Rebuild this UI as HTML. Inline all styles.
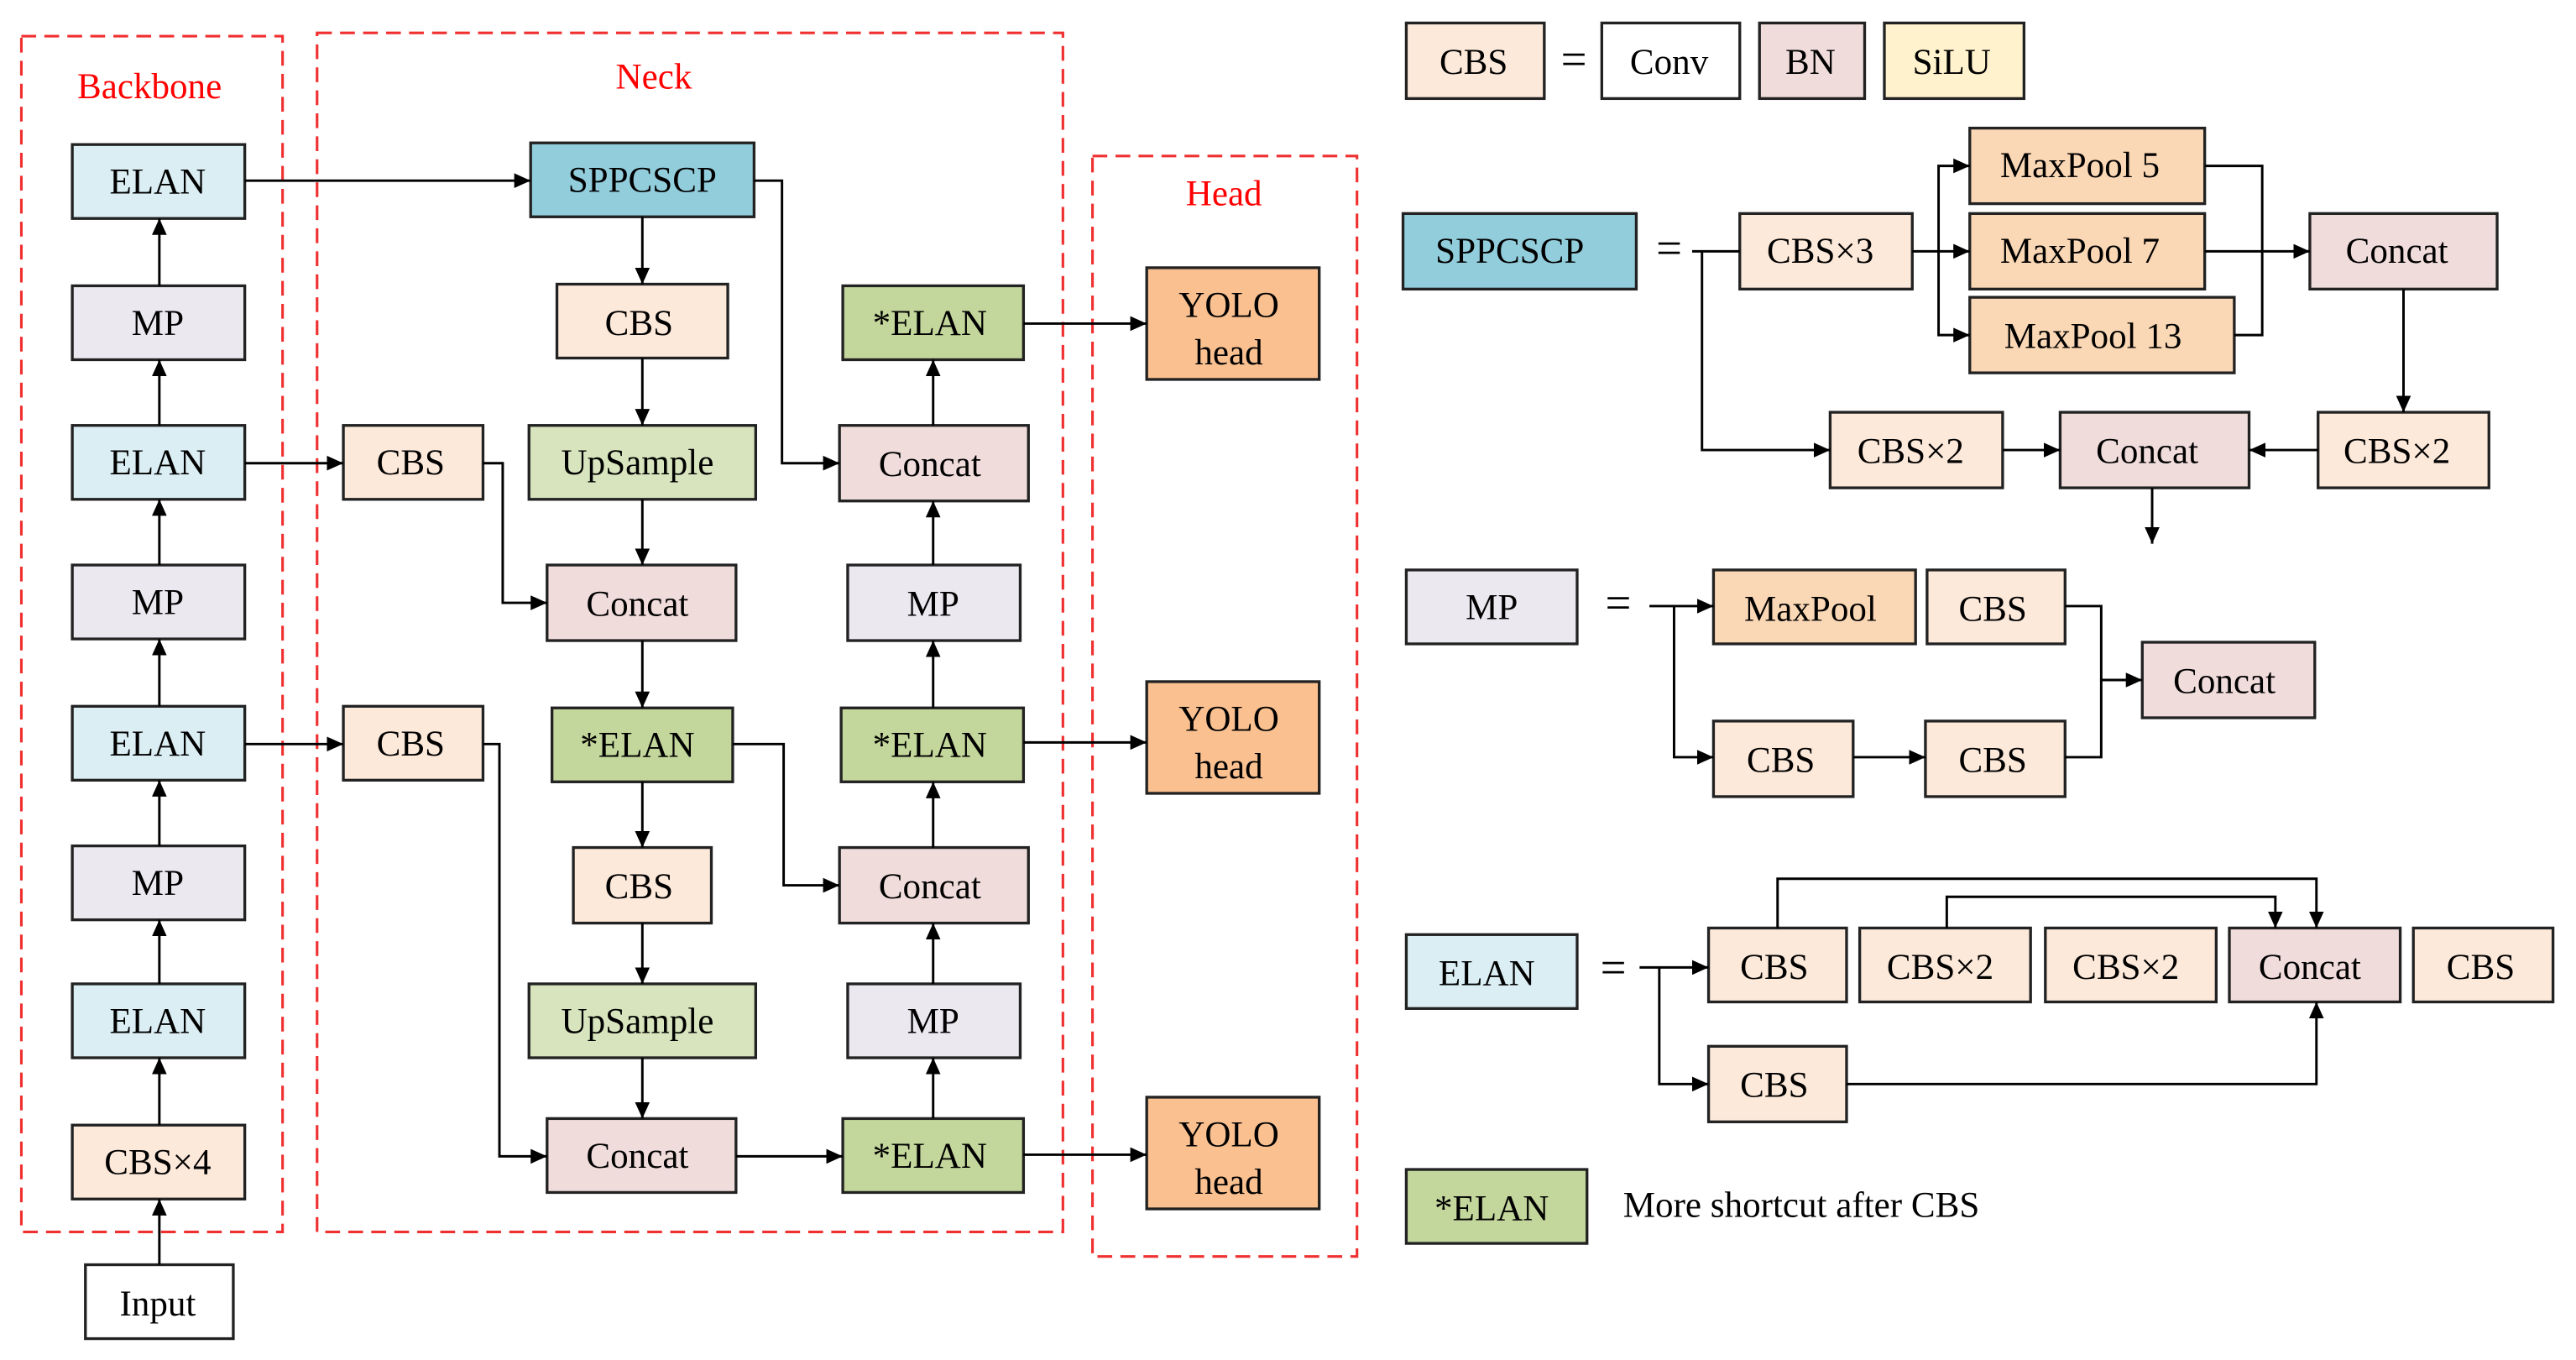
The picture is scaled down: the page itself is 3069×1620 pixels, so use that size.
<!DOCTYPE html>
<html><head><meta charset="utf-8"><style>
html,body{margin:0;padding:0;background:#fff;}
svg{display:block;}
text{font-family:"Liberation Serif",serif;font-size:22px;fill:#000;}
.r{stroke:#222;stroke-width:1.7;}
.l{stroke:#000;stroke-width:1.5;fill:none;}
.d{stroke:#f03030;stroke-width:1.6;fill:none;stroke-dasharray:9,5;}
.red{fill:#ff0000;}
</style></head><body>
<svg width="3069" height="1620" viewBox="0 0 1568 828" preserveAspectRatio="none" xmlns="http://www.w3.org/2000/svg">
<defs><marker id="a" viewBox="0 0 10 10" refX="10" refY="5" markerWidth="10" markerHeight="10" orient="auto" markerUnits="userSpaceOnUse"><path d="M0,0.5L10,5L0,9.5z" fill="#000"/></marker></defs>
<g text-anchor="middle" dominant-baseline="central">
<rect class="d" x="13" y="22" width="159" height="728"/>
<rect class="d" x="193" y="20" width="454" height="730"/>
<rect class="d" x="665" y="95" width="161" height="670"/>
<text x="91" y="53" class="red">Backbone</text>
<text x="398" y="47" class="red">Neck</text>
<text x="745" y="118" class="red">Head</text>

<rect class="r" x="44" y="88" width="105" height="45" fill="#dbeef4"/><text x="96" y="111">ELAN</text>
<rect class="r" x="44" y="174" width="105" height="45" fill="#ebe8f0"/><text x="96" y="197">MP</text>
<rect class="r" x="44" y="259" width="105" height="45" fill="#dbeef4"/><text x="96" y="282">ELAN</text>
<rect class="r" x="44" y="344" width="105" height="45" fill="#ebe8f0"/><text x="96" y="367">MP</text>
<rect class="r" x="44" y="430" width="105" height="45" fill="#dbeef4"/><text x="96" y="453">ELAN</text>
<rect class="r" x="44" y="515" width="105" height="45" fill="#ebe8f0"/><text x="96" y="538">MP</text>
<rect class="r" x="44" y="599" width="105" height="45" fill="#dbeef4"/><text x="96" y="622">ELAN</text>
<rect class="r" x="44" y="685" width="105" height="45" fill="#fde9da"/><text x="96" y="708">CBS×4</text>
<rect class="r" x="52" y="770" width="90" height="45" fill="#fff"/><text x="96" y="794">Input</text>
<path class="l" marker-end="url(#a)" d="M97,770V730"/>
<path class="l" marker-end="url(#a)" d="M97,685V644"/>
<path class="l" marker-end="url(#a)" d="M97,599V560"/>
<path class="l" marker-end="url(#a)" d="M97,515V475"/>
<path class="l" marker-end="url(#a)" d="M97,430V389"/>
<path class="l" marker-end="url(#a)" d="M97,344V304"/>
<path class="l" marker-end="url(#a)" d="M97,259V219"/>
<path class="l" marker-end="url(#a)" d="M97,174V133"/>

<rect class="r" x="323" y="87" width="136" height="45" fill="#92cddc"/><text x="391" y="110">SPPCSCP</text>
<rect class="r" x="339" y="173" width="104" height="45" fill="#fde9da"/><text x="389" y="197">CBS</text>
<rect class="r" x="322" y="259" width="138" height="45" fill="#d7e4bd"/><text x="388" y="282">UpSample</text>
<rect class="r" x="333" y="344" width="115" height="46" fill="#f0dcdb"/><text x="388" y="368">Concat</text>
<rect class="r" x="336" y="431" width="110" height="45" fill="#c3d69b"/><text x="388" y="454">*ELAN</text>
<rect class="r" x="349" y="516" width="84" height="46" fill="#fde9da"/><text x="389" y="540">CBS</text>
<rect class="r" x="322" y="599" width="138" height="45" fill="#d7e4bd"/><text x="388" y="622">UpSample</text>
<rect class="r" x="333" y="681" width="115" height="45" fill="#f0dcdb"/><text x="388" y="704">Concat</text>
<rect class="r" x="209" y="259" width="85" height="45" fill="#fde9da"/><text x="250" y="282">CBS</text>
<rect class="r" x="209" y="430" width="85" height="45" fill="#fde9da"/><text x="250" y="453">CBS</text>

<rect class="r" x="513" y="174" width="110" height="45" fill="#c3d69b"/><text x="566" y="197">*ELAN</text>
<rect class="r" x="511" y="259" width="115" height="46" fill="#f0dcdb"/><text x="566" y="283">Concat</text>
<rect class="r" x="516" y="344" width="105" height="46" fill="#ebe8f0"/><text x="568" y="368">MP</text>
<rect class="r" x="512" y="431" width="111" height="45" fill="#c3d69b"/><text x="566" y="454">*ELAN</text>
<rect class="r" x="511" y="516" width="115" height="46" fill="#f0dcdb"/><text x="566" y="540">Concat</text>
<rect class="r" x="516" y="599" width="105" height="45" fill="#ebe8f0"/><text x="568" y="622">MP</text>
<rect class="r" x="513" y="681" width="110" height="45" fill="#c3d69b"/><text x="566" y="704">*ELAN</text>

<rect class="r" x="698" y="163" width="105" height="68" fill="#fac090"/><text x="748" y="186">YOLO</text><text x="748" y="215">head</text>
<rect class="r" x="698" y="415" width="105" height="68" fill="#fac090"/><text x="748" y="438">YOLO</text><text x="748" y="467">head</text>
<rect class="r" x="698" y="668" width="105" height="68" fill="#fac090"/><text x="748" y="691">YOLO</text><text x="748" y="720">head</text>

<path class="l" marker-end="url(#a)" d="M149,110H323"/>
<path class="l" marker-end="url(#a)" d="M459,110H476V282H511"/>
<path class="l" marker-end="url(#a)" d="M391,132V173"/>
<path class="l" marker-end="url(#a)" d="M391,218V259"/>
<path class="l" marker-end="url(#a)" d="M391,304V344"/>
<path class="l" marker-end="url(#a)" d="M391,390V431"/>
<path class="l" marker-end="url(#a)" d="M391,476V516"/>
<path class="l" marker-end="url(#a)" d="M391,562V599"/>
<path class="l" marker-end="url(#a)" d="M391,644V681"/>
<path class="l" marker-end="url(#a)" d="M149,282H209"/>
<path class="l" marker-end="url(#a)" d="M294,282H306V367H333"/>
<path class="l" marker-end="url(#a)" d="M149,453H209"/>
<path class="l" marker-end="url(#a)" d="M294,453H304V704H333"/>
<path class="l" marker-end="url(#a)" d="M446,453H477V539H511"/>
<path class="l" marker-end="url(#a)" d="M448,704H513"/>
<path class="l" marker-end="url(#a)" d="M568,681V644"/>
<path class="l" marker-end="url(#a)" d="M568,599V562"/>
<path class="l" marker-end="url(#a)" d="M568,516V476"/>
<path class="l" marker-end="url(#a)" d="M568,431V390"/>
<path class="l" marker-end="url(#a)" d="M568,344V305"/>
<path class="l" marker-end="url(#a)" d="M568,259V219"/>
<path class="l" marker-end="url(#a)" d="M623,197H698"/>
<path class="l" marker-end="url(#a)" d="M623,452H698"/>
<path class="l" marker-end="url(#a)" d="M623,703H698"/>

<rect class="r" x="856" y="14" width="84" height="46" fill="#fde9da"/><text x="897" y="38">CBS</text>
<text x="958" y="36" style="font-size:28px">=</text>
<rect class="r" x="975" y="14" width="84" height="46" fill="#fff"/><text x="1016" y="38">Conv</text>
<rect class="r" x="1071" y="14" width="64" height="46" fill="#f0dcdb"/><text x="1102" y="38">BN</text>
<rect class="r" x="1147" y="14" width="85" height="46" fill="#fff2cc"/><text x="1188" y="38">SiLU</text>

<rect class="r" x="854" y="130" width="142" height="46" fill="#92cddc"/><text x="919" y="153">SPPCSCP</text>
<text x="1016" y="151" style="font-size:28px">=</text>
<rect class="r" x="1059" y="130" width="105" height="46" fill="#fde9da"/><text x="1108" y="153">CBS×3</text>
<rect class="r" x="1199" y="78" width="143" height="46" fill="#fad7b5"/><text x="1266" y="101">MaxPool 5</text>
<rect class="r" x="1199" y="130" width="143" height="46" fill="#fad7b5"/><text x="1266" y="153">MaxPool 7</text>
<rect class="r" x="1199" y="181" width="161" height="46" fill="#fad7b5"/><text x="1274" y="205">MaxPool 13</text>
<rect class="r" x="1406" y="130" width="114" height="46" fill="#f0dcdb"/><text x="1459" y="153">Concat</text>
<rect class="r" x="1411" y="251" width="104" height="46" fill="#fde9da"/><text x="1459" y="275">CBS×2</text>
<rect class="r" x="1254" y="251" width="115" height="46" fill="#f0dcdb"/><text x="1307" y="275">Concat</text>
<rect class="r" x="1114" y="251" width="105" height="46" fill="#fde9da"/><text x="1163" y="275">CBS×2</text>
<path class="l" d="M1030,153H1059"/>
<path class="l" marker-end="url(#a)" d="M1164,153H1199"/>
<path class="l" marker-end="url(#a)" d="M1180,153V101H1199"/>
<path class="l" marker-end="url(#a)" d="M1180,153V204H1199"/>
<path class="l" d="M1342,101H1377V204H1360"/>
<path class="l" marker-end="url(#a)" d="M1342,153H1406"/>
<path class="l" marker-end="url(#a)" d="M1463,176V251"/>
<path class="l" marker-end="url(#a)" d="M1411,274H1369"/>
<path class="l" marker-end="url(#a)" d="M1219,274H1254"/>
<path class="l" marker-end="url(#a)" d="M1036,153V274H1114"/>
<path class="l" marker-end="url(#a)" d="M1310,297V331"/>

<rect class="r" x="856" y="347" width="104" height="45" fill="#ebe8f0"/><text x="908" y="370">MP</text>
<text x="985" y="367" style="font-size:28px">=</text>
<rect class="r" x="1043" y="347" width="123" height="45" fill="#fad7b5"/><text x="1102" y="371">MaxPool</text>
<rect class="r" x="1173" y="347" width="84" height="45" fill="#fde9da"/><text x="1213" y="371">CBS</text>
<rect class="r" x="1043" y="439" width="85" height="46" fill="#fde9da"/><text x="1084" y="463">CBS</text>
<rect class="r" x="1172" y="439" width="85" height="46" fill="#fde9da"/><text x="1213" y="463">CBS</text>
<rect class="r" x="1304" y="391" width="105" height="46" fill="#f0dcdb"/><text x="1354" y="415">Concat</text>
<path class="l" marker-end="url(#a)" d="M1004,369H1043"/>
<path class="l" marker-end="url(#a)" d="M1019,369V461H1043"/>
<path class="l" marker-end="url(#a)" d="M1128,461H1172"/>
<path class="l" d="M1257,369H1279V461H1257"/>
<path class="l" marker-end="url(#a)" d="M1279,414H1304"/>

<rect class="r" x="856" y="569" width="104" height="45" fill="#dbeef4"/><text x="905" y="593">ELAN</text>
<text x="982" y="589" style="font-size:28px">=</text>
<rect class="r" x="1040" y="565" width="84" height="45" fill="#fde9da"/><text x="1080" y="589">CBS</text>
<rect class="r" x="1132" y="565" width="104" height="45" fill="#fde9da"/><text x="1181" y="589">CBS×2</text>
<rect class="r" x="1245" y="565" width="104" height="45" fill="#fde9da"/><text x="1294" y="589">CBS×2</text>
<rect class="r" x="1357" y="565" width="104" height="45" fill="#f0dcdb"/><text x="1406" y="589">Concat</text>
<rect class="r" x="1469" y="565" width="85" height="45" fill="#fde9da"/><text x="1510" y="589">CBS</text>
<rect class="r" x="1040" y="637" width="84" height="46" fill="#fde9da"/><text x="1080" y="661">CBS</text>
<path class="l" marker-end="url(#a)" d="M998,589H1040"/>
<path class="l" marker-end="url(#a)" d="M1010,589V660H1040"/>
<path class="l" marker-end="url(#a)" d="M1082,565V535H1410V565"/>
<path class="l" marker-end="url(#a)" d="M1185,565V546H1385V565"/>
<path class="l" marker-end="url(#a)" d="M1124,660H1410V610"/>

<rect class="r" x="856" y="712" width="110" height="45" fill="#c3d69b"/><text x="908" y="736">*ELAN</text>
<text x="988" y="734" text-anchor="start">More shortcut after CBS</text>
</g>
</svg>
</body></html>
